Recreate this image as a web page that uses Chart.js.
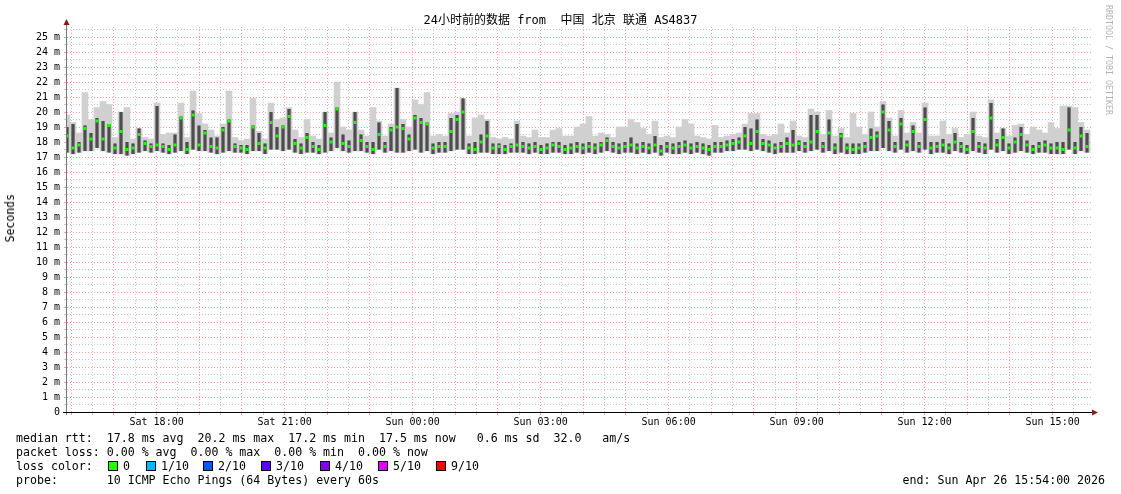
<!DOCTYPE html>
<html>
<head>
<meta charset="utf-8">
<script src="https://cdn.jsdelivr.net/npm/chart.js@4/dist/chart.umd.min.js"></script>
<style>
  body { margin: 0; background: #fff; }
  #wrap { position: relative; width: 1121px; height: 494px; font-family: "DejaVu Sans Mono", monospace; }
  #wrap canvas { position: absolute; left: 0; top: 0; }
  .txt { position: absolute; white-space: pre; color: #000; font-size: 11.6px; line-height: 14px; }
  .box { position: absolute; width: 8px; height: 8px; border: 1px solid #000; }
</style>
</head>
<body>
<div id="wrap">
  <canvas id="smoke" width="1121" height="494"></canvas>
  <div class="txt" id="title" style="left:0;width:1121px;text-align:center;top:13px;font-size:12px;font-family:'DejaVu Sans Mono','Noto Sans CJK SC',monospace;"></div>
  <div class="txt" style="left:3px;top:194px;writing-mode:vertical-rl;transform:rotate(180deg);font-size:11.5px;">Seconds</div>
  <div class="txt" style="left:1104px;top:5px;writing-mode:vertical-rl;font-size:8.3px;color:#b4b4b4;line-height:10px;">RRDTOOL / TOBI OETIKER</div>
  <div class="txt" style="left:16px;top:431px;">median rtt:  17.8 ms avg  20.2 ms max  17.2 ms min  17.5 ms now   0.6 ms sd  32.0   am/s</div>
  <div class="txt" style="left:16px;top:445px;">packet loss: 0.00 % avg  0.00 % max  0.00 % min  0.00 % now</div>
  <div class="txt" style="left:16px;top:459px;">loss color:</div>
  <div id="losses"></div>
  <div class="txt" style="left:16px;top:473px;">probe:       10 ICMP Echo Pings (64 Bytes) every 60s</div>
  <div class="txt" style="right:16px;top:473px;">end: Sun Apr 26 15:54:00 2026</div>
</div>
<script>
const titleText = '24小时前的数据 from  中国 北京 联通 AS4837';
const stepMin = 8.4375; // minutes between samples (6 px)

// median rtt (ms)
const med = [
  18.4, 17.6, 17.8, 18.9, 18.2, 19.4, 18.2, 19.1, 17.6, 18.7,
  17.5, 17.6, 18.5, 17.9, 17.7, 17.8, 17.7, 17.5, 17.8, 19.6,
  17.5, 19.8, 17.8, 18.6, 17.7, 17.6, 18.8, 19.4, 17.7, 17.6,
  17.5, 19.0, 17.9, 17.6, 19.3, 18.4, 19.0, 19.7, 17.9, 17.6,
  18.3, 17.7, 17.5, 19.1, 18.0, 20.2, 17.9, 17.7, 19.3, 18.1,
  17.7, 17.5, 18.5, 17.7, 18.8, 19.0, 18.9, 18.2, 19.6, 19.3,
  19.2, 17.6, 17.7, 17.7, 18.7, 19.5, 20.0, 17.6, 17.5, 18.0,
  18.4, 17.6, 17.7, 17.5, 17.7, 17.8, 17.7, 17.6, 17.7, 17.5,
  17.6, 17.8, 17.7, 17.5, 17.6, 17.7, 17.6, 17.7, 17.6, 17.8,
  18.1, 17.7, 17.6, 17.7, 17.8, 17.6, 17.7, 17.6, 17.8, 17.4,
  17.7, 17.6, 17.7, 17.8, 17.6, 17.7, 17.6, 17.5, 17.7, 17.7,
  17.8, 17.9, 18.0, 18.4, 17.9, 18.7, 17.9, 17.8, 17.6, 17.7,
  17.9, 17.8, 17.9, 17.7, 18.0, 18.7, 17.7, 18.6, 17.6, 18.4,
  17.6, 17.5, 17.6, 17.7, 18.3, 18.4, 20.0, 18.8, 17.7, 19.2,
  17.8, 18.7, 17.7, 19.5, 17.6, 17.7, 17.8, 17.6, 18.0, 17.7,
  17.5, 18.7, 17.7, 17.6, 19.6, 17.8, 18.3, 17.6, 18.0, 18.5,
  17.8, 17.5, 17.7, 17.8, 17.6, 17.6, 17.5, 18.8, 17.6, 18.4, 17.7
];
// top of light smoke (slowest ping)
const hi = [
  19.8, 19.3, 18.6, 21.3, 19.5, 20.3, 20.7, 20.5, 18.3, 20.0,
  20.3, 18.2, 18.9, 18.3, 18.2, 20.6, 18.5, 18.6, 18.6, 20.6,
  18.3, 21.4, 19.9, 19.2, 18.8, 18.4, 19.2, 21.4, 18.3, 18.1,
  18.2, 20.9, 18.7, 18.2, 20.6, 19.5, 19.6, 20.3, 18.8, 18.3,
  19.5, 18.4, 18.2, 20.0, 18.6, 22.0, 19.0, 18.8, 20.0, 18.8,
  18.4, 20.3, 19.4, 18.4, 19.2, 21.6, 19.5, 19.0, 20.8, 20.5,
  21.3, 18.4, 18.5, 18.4, 19.9, 20.0, 20.9, 18.4, 19.6, 19.8,
  19.5, 18.3, 18.2, 18.3, 18.2, 19.4, 18.4, 18.3, 18.8, 18.3,
  18.3, 18.8, 18.9, 18.4, 18.4, 19.0, 19.2, 19.7, 18.4, 18.6,
  18.5, 18.3, 19.0, 19.0, 19.5, 19.3, 18.9, 18.5, 19.4, 18.3,
  18.4, 18.3, 19.0, 19.5, 19.2, 18.4, 18.3, 18.2, 19.1, 18.3,
  18.4, 18.5, 18.6, 19.2, 19.9, 19.9, 18.5, 18.4, 18.5, 19.2,
  18.6, 19.4, 18.4, 18.3, 20.2, 20.0, 18.5, 20.1, 18.4, 18.9,
  18.3, 19.9, 19.0, 18.5, 20.0, 19.0, 20.7, 19.6, 18.4, 20.1,
  18.6, 19.3, 18.6, 20.6, 18.4, 18.4, 19.4, 18.5, 18.9, 18.3,
  18.5, 20.0, 18.4, 18.3, 20.8, 18.6, 18.9, 18.4, 19.1, 19.2,
  18.5, 19.0, 18.8, 18.6, 19.3, 18.9, 20.4, 20.4, 20.3, 19.3, 18.8
];
// top of dark smoke (pings around the median)
const dk = [
  19.0, 19.2, 18.0, 19.1, 18.6, 19.6, 19.4, 19.2, 17.9, 20.0,
  18.0, 17.9, 18.9, 18.1, 17.9, 20.4, 17.9, 17.8, 18.5, 19.7,
  18.0, 20.1, 19.1, 18.8, 18.3, 18.3, 19.0, 19.5, 17.9, 17.8,
  17.8, 19.1, 18.6, 17.9, 20.0, 19.0, 19.1, 20.2, 18.2, 17.9,
  18.6, 18.0, 17.8, 20.0, 18.3, 20.3, 18.5, 18.1, 20.0, 18.5,
  18.0, 18.0, 19.3, 18.0, 19.0, 21.6, 19.2, 18.5, 19.8, 19.6,
  19.3, 17.9, 18.0, 18.0, 19.6, 19.8, 20.9, 17.9, 18.0, 18.5,
  19.4, 17.9, 17.9, 17.8, 17.9, 19.2, 18.0, 17.9, 18.0, 17.8,
  17.9, 18.0, 18.0, 17.8, 17.9, 18.0, 17.9, 18.0, 17.9, 18.0,
  18.3, 18.0, 17.9, 18.0, 18.3, 17.9, 18.0, 17.9, 18.4, 17.8,
  18.0, 17.9, 18.0, 18.1, 17.9, 18.0, 17.9, 17.8, 18.0, 18.0,
  18.1, 18.2, 18.3, 19.0, 18.9, 19.5, 18.2, 18.1, 17.9, 18.0,
  18.3, 18.8, 18.1, 18.0, 19.8, 19.8, 18.0, 19.5, 17.9, 18.6,
  17.9, 17.9, 17.9, 18.0, 18.9, 18.7, 20.5, 19.4, 18.0, 19.6,
  18.1, 19.1, 18.0, 20.3, 18.0, 18.0, 18.2, 17.9, 18.6, 18.0,
  17.8, 19.6, 18.0, 17.9, 20.6, 18.2, 18.9, 17.9, 18.3, 19.0,
  18.1, 17.8, 18.0, 18.1, 17.9, 18.0, 18.0, 20.3, 18.0, 19.0, 18.6
];
// bottom of smoke (fastest ping)
const lo = [
  17.3, 17.2, 17.3, 17.4, 17.4, 17.6, 17.4, 17.3, 17.2, 17.2,
  17.1, 17.2, 17.3, 17.4, 17.3, 17.4, 17.3, 17.2, 17.3, 17.4,
  17.2, 17.5, 17.4, 17.4, 17.3, 17.2, 17.3, 17.4, 17.3, 17.3,
  17.2, 17.4, 17.4, 17.2, 17.5, 17.5, 17.4, 17.5, 17.3, 17.2,
  17.3, 17.3, 17.2, 17.3, 17.4, 17.6, 17.4, 17.3, 17.4, 17.4,
  17.3, 17.2, 17.5, 17.3, 17.4, 17.3, 17.3, 17.4, 17.5, 17.3,
  17.4, 17.2, 17.3, 17.3, 17.4, 17.5, 17.5, 17.2, 17.2, 17.3,
  17.3, 17.2, 17.2, 17.2, 17.3, 17.3, 17.3, 17.2, 17.3, 17.2,
  17.2, 17.3, 17.3, 17.2, 17.2, 17.3, 17.2, 17.3, 17.2, 17.3,
  17.4, 17.3, 17.2, 17.3, 17.3, 17.2, 17.3, 17.2, 17.3, 17.1,
  17.3, 17.2, 17.2, 17.3, 17.2, 17.3, 17.2, 17.1, 17.3, 17.3,
  17.4, 17.4, 17.5, 17.5, 17.4, 17.5, 17.4, 17.3, 17.2, 17.3,
  17.3, 17.3, 17.4, 17.3, 17.4, 17.5, 17.3, 17.4, 17.2, 17.3,
  17.2, 17.2, 17.2, 17.3, 17.4, 17.4, 17.6, 17.4, 17.3, 17.5,
  17.3, 17.4, 17.3, 17.5, 17.2, 17.3, 17.3, 17.2, 17.4, 17.3,
  17.2, 17.4, 17.3, 17.2, 17.5, 17.3, 17.4, 17.2, 17.3, 17.4,
  17.3, 17.2, 17.3, 17.3, 17.2, 17.2, 17.2, 17.5, 17.2, 17.4, 17.3
];

const timeLabels = ['Sat 18:00', 'Sat 21:00', 'Sun 00:00', 'Sun 03:00', 'Sun 06:00', 'Sun 09:00', 'Sun 12:00', 'Sun 15:00'];
const firstLabelMin = 126; // Sat 18:00 is 126 min after the start (Sat 15:54)
const lossLabels = ['0', '1/10', '2/10', '3/10', '4/10', '5/10', '9/10'];
const lossColors = ['#26ff00', '#00b8ff', '#0059ff', '#5e00ff', '#7e00ff', '#dd00ff', '#ff0000'];

document.getElementById('title').textContent = titleText;

// loss colour legend
const boxX = [108, 146, 203, 261, 320, 378, 436];
const losses = document.getElementById('losses');
lossLabels.forEach((l, i) => {
    const b = document.createElement('div');
    b.className = 'box';
    b.style.left = boxX[i] + 'px';
    b.style.top = '461px';
    b.style.background = lossColors[i];
    losses.appendChild(b);
    const t = document.createElement('div');
    t.className = 'txt';
    t.style.left = (boxX[i] + 15) + 'px';
    t.style.top = '459px';
    t.textContent = l;
    losses.appendChild(t);
});

const xs = med.map((v, i) => i * stepMin);
const band = (a, b) => xs.map((x, i) => ({x: x, y: [a[i], b[i]]}));

const redGrid = 'rgba(255,0,0,0.38)';
const greyGrid = 'rgba(150,150,150,0.5)';

// axis lines and the little arrows rrdtool draws
const axesPlugin = {
    id: 'axes',
    afterDraw(chart) {
        const ctx = chart.ctx;
        const a = chart.chartArea;
        ctx.save();
        ctx.lineWidth = 1;
        ctx.strokeStyle = '#777';
        ctx.beginPath();
        ctx.moveTo(a.left - 0.5, a.bottom + 3);
        ctx.lineTo(a.left - 0.5, a.top - 4);
        ctx.stroke();
        ctx.strokeStyle = '#000';
        ctx.beginPath();
        ctx.moveTo(a.left - 4, a.bottom + 0.5);
        ctx.lineTo(a.right + 3, a.bottom + 0.5);
        ctx.stroke();
        ctx.fillStyle = '#8b1a1a';
        ctx.beginPath();
        ctx.moveTo(a.left - 0.5, a.top - 8);
        ctx.lineTo(a.left - 3.5, a.top - 2);
        ctx.lineTo(a.left + 2.5, a.top - 2);
        ctx.closePath();
        ctx.fill();
        ctx.beginPath();
        ctx.moveTo(a.right + 7, a.bottom + 0.5);
        ctx.lineTo(a.right + 1, a.bottom - 2.5);
        ctx.lineTo(a.right + 1, a.bottom + 3.5);
        ctx.closePath();
        ctx.fill();
        ctx.restore();
    }
};

// non-grouped bars take their width from categoryPercentage * barPercentage
const barBase = { grouped: false, categoryPercentage: 1, borderWidth: 0 };

new Chart(document.getElementById('smoke'), {
    type: 'bar',
    data: {
        datasets: [
            {
                type: 'line',
                data: xs.map((x, i) => ({x: x, y: med[i]})),
                showLine: false,
                pointStyle: 'rect',
                pointRadius: 2.1,
                pointBorderWidth: 0,
                pointBackgroundColor: '#1aff00',
                order: 0
            },
            { ...barBase, data: band(lo, dk), backgroundColor: '#1e1e1e', barPercentage: 1 / 6, order: 1 },
            { ...barBase, data: band(lo, dk), backgroundColor: '#7c7c7c', barPercentage: 4 / 6, order: 2 },
            { ...barBase, data: band(lo, hi), backgroundColor: '#d0d0d0', barPercentage: 1, order: 3 }
        ]
    },
    options: {
        responsive: false,
        animation: false,
        devicePixelRatio: 1,
        layout: { padding: { left: 0, top: 27, right: 30, bottom: 64 } },
        plugins: { legend: { display: false }, tooltip: { enabled: false } },
        scales: {
            x: {
                type: 'linear',
                min: 0,
                max: 1440,
                offset: false,
                afterFit(s) { s.height = 18; },
                afterBuildTicks(s) {
                    const t = [];
                    for (let m = 6; m < 1440; m += 30) t.push({value: m});
                    s.ticks = t;
                },
                ticks: {
                    autoSkip: false,
                    maxRotation: 0,
                    padding: 1,
                    color: '#000',
                    font: { family: 'DejaVu Sans Mono', size: 10 },
                    callback: v => {
                        const k = (v - firstLabelMin) / 180;
                        return Number.isInteger(k) && k >= 0 ? timeLabels[k] : '';
                    }
                },
                grid: {
                    offset: false,
                    tickLength: 3,
                    color: c => ((c.tick.value - 6) % 60 === 0 ? redGrid : greyGrid)
                },
                border: { display: false, dash: [1, 2] }
            },
            y: {
                min: 0,
                max: 25.667,
                afterFit(s) { s.width = 67; },
                afterBuildTicks(s) {
                    const t = [];
                    for (let v = 0; v <= 25.5; v += 0.5) t.push({value: v});
                    s.ticks = t;
                },
                ticks: {
                    autoSkip: false,
                    padding: 4,
                    color: '#000',
                    font: { family: 'DejaVu Sans Mono', size: 10 },
                    callback: v => (v === 0 ? '0' : Number.isInteger(v) ? v + ' m' : '')
                },
                grid: {
                    tickLength: 3,
                    color: c => (Number.isInteger(c.tick.value) ? redGrid : greyGrid)
                },
                border: { display: false, dash: [1, 2] }
            }
        }
    },
    plugins: [axesPlugin]
});
</script>
</body>
</html>
